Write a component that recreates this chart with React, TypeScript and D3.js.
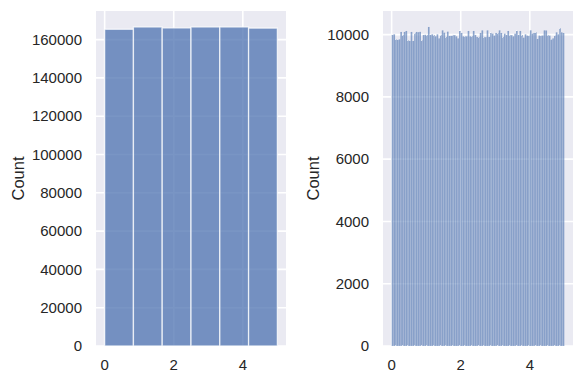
import React from "react";
import * as d3 from "d3";

const leftCounts = [165400, 166600, 166100, 166600, 166600, 166000];
const rightCounts = [
  9989, 10011, 9850, 9829, 9850, 10086, 9989, 10086, 10118, 9818,
  9797, 10086, 9797, 10043, 10086, 10080, 10090, 9818, 9989, 9995,
  9985, 10246, 9990, 10011, 9989, 9947, 10011, 9882, 9989, 10139,
  10064, 9925, 10096, 9957, 9960, 9989, 9985, 9947, 9882, 10118,
  10054, 9947, 9950, 9945, 10118, 9947, 9950, 10118,
  9989, 9925, 9925, 10054, 10139, 9925, 9920, 10139, 9925, 10054,
  10032, 9968, 10054, 10050, 10139, 10054, 9925, 10032, 9989, 10118,
  9989, 9985, 9947, 10032, 10118, 9989, 10118, 9989, 9904, 10011,
  9968, 9965, 10139, 10032, 10054, 10075, 9861, 9968, 9965, 9970,
  10139, 10135, 9989, 9968, 9840, 9882, 9968, 10075, 10011, 10203,
  10075, 10054,
];
const leftYTicks = [0, 20000, 40000, 60000, 80000, 100000, 120000, 140000, 160000];
const rightYTicks = [0, 2000, 4000, 6000, 8000, 10000];
const xTicks = [0, 2, 4];
const dataMin = 0;
const dataMax = 5;
const yLabel = "Count";

const FONT = "'Liberation Sans', Arial, sans-serif";
const TEXT = "#262626";
const BG = "#EAEAF2";
const BAR = "#4C72B0";

type PanelProps = {
  left: number;
  counts: number[];
  yTicks: number[];
  strokeW: number;
  strokeOp: number;
  fillOp: number;
  labelX: number;
};

function Panel({ left, counts, yTicks, strokeW, strokeOp, fillOp, labelX }: PanelProps) {
  const top = 11;
  const bottom = 346;
  const width = 190;
  const pad = (dataMax - dataMin) * 0.05;
  const x = d3.scaleLinear().domain([dataMin - pad, dataMax + pad]).range([left, left + width]);
  const maxC = d3.max(counts) as number;
  const y = d3.scaleLinear().domain([0, maxC * 1.05]).range([bottom, top]);
  const n = counts.length;
  const binW = (dataMax - dataMin) / n;
  const bins = counts.map((c, i) => ({ x0: dataMin + i * binW, x1: dataMin + (i + 1) * binW, c }));
  return (
    <g>
      <rect x={left} y={top} width={width} height={bottom - top} fill={BG} />
      {xTicks.map((t) => (
        <line key={"gx" + t} x1={x(t)} x2={x(t)} y1={top} y2={bottom} stroke="#fff" strokeWidth={1.6} />
      ))}
      {yTicks.map((t) => (
        <line key={"gy" + t} x1={left} x2={left + width} y1={y(t)} y2={y(t)} stroke="#fff" strokeWidth={1.6} />
      ))}
      <g>
        {bins.map((b, i) => (
          <rect
            key={i}
            x={x(b.x0)}
            y={y(b.c)}
            width={x(b.x1) - x(b.x0)}
            height={y(0) - y(b.c)}
            fill={BAR}
            fillOpacity={fillOp}
            stroke="#fff"
            strokeOpacity={strokeOp}
            strokeWidth={strokeW}
          />
        ))}
      </g>
      {yTicks.map((t) => (
        <text
          key={"ty" + t}
          x={left - 14}
          y={y(t)}
          dy="0.35em"
          textAnchor="end"
          fontSize={15}
          fontFamily={FONT}
          fill={TEXT}
        >
          {t}
        </text>
      ))}
      {xTicks.map((t) => (
        <text
          key={"tx" + t}
          x={x(t)}
          y={365}
          dy="0.35em"
          textAnchor="middle"
          fontSize={15}
          fontFamily={FONT}
          fill={TEXT}
        >
          {t}
        </text>
      ))}
      <text
        transform={`translate(${labelX},${(top + bottom) / 2}) rotate(-90)`}
        textAnchor="middle"
        dy="0.35em"
        fontSize={16.5}
        fontFamily={FONT}
        fill={TEXT}
      >
        {yLabel}
      </text>
    </g>
  );
}

export default function App() {
  return (
    <svg width={584} height={384} style={{ position: "absolute", left: 0, top: 0, background: "#fff" }}>
      <rect x={0} y={0} width={584} height={384} fill="#fff" />
      <Panel left={96} counts={leftCounts} yTicks={leftYTicks} strokeW={1.3} strokeOp={0.75} fillOp={0.75} labelX={18} />
      <Panel left={383} counts={rightCounts} yTicks={rightYTicks} strokeW={0.12} strokeOp={0.75} fillOp={0.62} labelX={313} />
    </svg>
  );
}
